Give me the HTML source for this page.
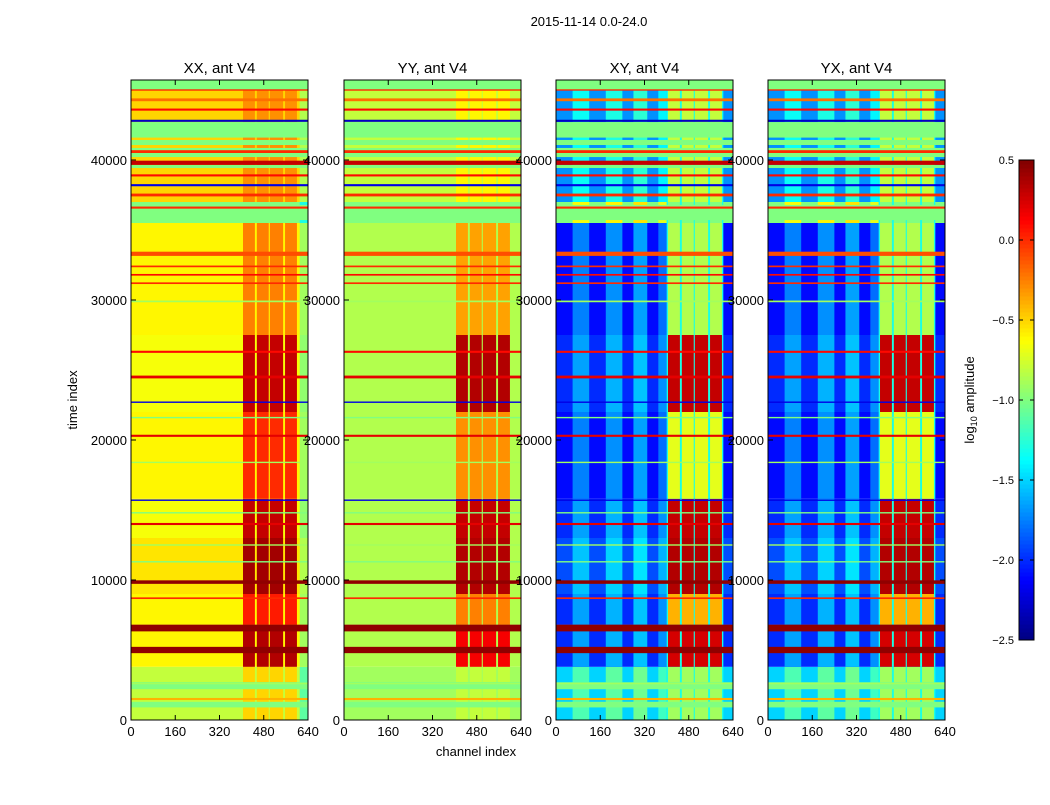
<!DOCTYPE html>
<html><head><meta charset="utf-8"><style>
body{margin:0;background:#fff;}
svg text{font-family:"Liberation Sans",sans-serif;}
</style></head><body>
<svg id="fig" width="1050" height="800" viewBox="0 0 1050 800" xmlns="http://www.w3.org/2000/svg">
<rect width="1050" height="800" fill="#fff"/>
<text x="589" y="26" font-size="13" text-anchor="middle">2015-11-14 0.0-24.0</text>
<text transform="translate(77,400) rotate(-90)" font-size="13" text-anchor="middle">time index</text>
<text x="476" y="756" font-size="13" text-anchor="middle">channel index</text>
<g id="panels"></g>
<g id="cbar"></g>
<text transform="translate(974,400) rotate(-90)" font-size="13" text-anchor="middle">log<tspan font-size="9" dy="3">10</tspan><tspan dy="-3"> amplitude</tspan></text>
</svg>
<script>
// ---- data ----
const panelTitles = ["XX, ant V4","YY, ant V4","XY, ant V4","YX, ant V4"];
const xTicks = [0,160,320,480,640];
const yTicks = [0,10000,20000,30000,40000];
const cbTicks = [0.5,0.0,-0.5,-1.0,-1.5,-2.0,-2.5];
// time bands
const bandT0 = [0,3800,6800,9000,13000,15800,22000,27500,35500,37000];
const bandT1 = [3800,6800,9000,13000,15800,22000,27500,35500,37000,45714];
// background value per band per panel
const bgXX = [-0.8,-0.6,-0.6,-0.55,-0.65,-0.6,-0.65,-0.6,-1.0,-0.5];
const bgYY = [-0.9,-0.85,-0.85,-0.85,-0.85,-0.85,-0.85,-0.85,-1.0,-0.8];
const bgXY = [-1.5,-2.0,-2.0,-1.9,-2.0,-2.1,-2.0,-2.1,-1.0,-1.7];
// channel-block value per band per panel
const blkXX = [-0.5,0.35,0.05,0.4,0.3,0.0,0.3,-0.25,-1.0,-0.3];
const blkYY = [-0.8,0.15,-0.25,0.35,0.3,-0.3,0.35,-0.35,-1.0,-0.6];
const blkXY = [-0.9,0.25,-0.4,0.35,0.3,-0.7,0.3,-0.85,-1.0,-0.8];
// block channel ranges
const blkC0 = [405,455,502,557];
const blkC1 = [448,498,550,600];
// lighter channel columns in cross-pol background
const colC0 = [60,180,280,370];
const colC1 = [120,240,330,400];
const colDelta = [0.35,0.4,0.45,0.3];
// flagged (constant green) time ranges
const flagT0 = [45000,41640,41070,40210,39430,35710,2200,900];
const flagT1 = [45714,42710,41430,40860,39640,36790,2700,1300];
// horizontal stripes: time, thickness (time units), value
const stripeT = [1500,2600,5000,6570,8700,9850,11300,12500,14000,14800,15700,18400,20300,21600,22700,24500,26300,29900,31200,31800,32400,33300,36600,37500,38200,38900,39800,40600,41700,42800,43600,44300,45000];
const stripeW = [150,100,450,480,120,250,100,100,150,100,100,100,150,100,100,200,150,120,120,120,120,300,150,200,150,150,300,200,200,150,150,200,100];
const stripeV = [-0.4,-0.9,0.45,0.45,0.0,0.45,-1.0,-0.9,0.2,-1.0,-2.2,-0.9,0.2,-1.0,-2.2,0.2,0.1,-0.9,0.0,0.1,0.0,-0.1,0.0,0.0,-2.2,0.1,0.3,0.0,-1.0,-2.3,0.1,-0.2,0.0];
// ---- rendering ----
const NS="http://www.w3.org/2000/svg";
function jet(v){let t=(v+2.5)/3;t=Math.max(0,Math.min(1,t));
 const f=x=>Math.max(0,Math.min(1,x));
 const r=f(Math.min(4*t-1.5,-4*t+4.5)),g=f(Math.min(4*t-0.5,-4*t+3.5)),b=f(Math.min(4*t+0.5,-4*t+2.5));
 return `rgb(${Math.round(r*255)},${Math.round(g*255)},${Math.round(b*255)})`;}
function mk(tag,attrs,parent){const e=document.createElementNS(NS,tag);for(const k in attrs)e.setAttribute(k,attrs[k]);parent.appendChild(e);return e;}
const panelX=[131,344,556,768], PW=177, PT=80, PB=720, TMAX=45714, CMAX=640;
const bgs=[bgXX,bgYY,bgXY,bgXY], blks=[blkXX,blkYY,blkXY,blkXY];
const root=document.getElementById('panels');
panelX.forEach((px,pi)=>{
 const sx=c=>px+c/CMAX*PW, sy=t=>PB-t/TMAX*(PB-PT);
 const g=mk('g',{},root);
 
 
 const bg=bgs[pi], bk=blks[pi];
 for(let b=0;b<bandT0.length;b++){
  const y1=sy(bandT1[b]), y0=sy(bandT0[b]);
  const r=mk('rect',{x:px,y:y1,width:PW,height:y0-y1,fill:jet(bg[b])},g);
  
  
  if(pi>=2){
   for(let c=0;c<colC0.length;c++){
    const cr=mk('rect',{x:sx(colC0[c]),y:y1,width:sx(colC1[c])-sx(colC0[c]),height:y0-y1,fill:jet(bg[b]+colDelta[c])},g);
    
    
   }
   const gap=mk('rect',{x:sx(400),y:y1,width:sx(605)-sx(400),height:y0-y1,fill:jet(-1.3)},g);
   
   
  } else if(pi===0){
   const er=mk('rect',{x:sx(610),y:y1,width:sx(640)-sx(610),height:y0-y1,fill:jet(Math.min(bg[b]-0.3,-0.85))},g);
   
   
  }
  for(let c=0;c<blkC0.length;c++){
   const br=mk('rect',{x:sx(blkC0[c]),y:y1,width:sx(blkC1[c])-sx(blkC0[c]),height:y0-y1,fill:jet(bk[b])},g);
   
   
  }
 }
 for(let f=0;f<flagT0.length;f++){
  const y1=sy(flagT1[f]), y0=sy(flagT0[f]);
  const fr=mk('rect',{x:px,y:y1,width:PW,height:y0-y1,fill:jet(-1.0)},g);
  
  
 }
 for(let s=0;s<stripeT.length;s++){
  const h=Math.max(1,stripeW[s]/TMAX*(PB-PT));
  const sr=mk('rect',{x:px,y:sy(stripeT[s])-h/2,width:PW,height:h,fill:jet(stripeV[s])},g);
  
  
 }
 const fr=mk('rect',{x:px,y:PT,width:PW,height:PB-PT,fill:'none',stroke:'#000','stroke-width':1},g);
 
 
 const tt=mk('text',{x:px+PW/2,y:73,'font-size':15,'text-anchor':'middle'},g);
 tt.textContent=panelTitles[pi];
 
 
 xTicks.forEach(v=>{const x=sx(v);
  mk('line',{x1:x,x2:x,y1:PB,y2:PB-5,stroke:'#000'},g);
  mk('line',{x1:x,x2:x,y1:PT,y2:PT+5,stroke:'#000'},g);
  const t=mk('text',{x:x,y:PB+16,'font-size':13,'text-anchor':'middle'},g);t.textContent=v;
  
  });
 yTicks.forEach(v=>{const y=sy(v);
  mk('line',{x1:px,x2:px+5,y1:y,y2:y,stroke:'#000'},g);
  mk('line',{x1:px+PW,x2:px+PW-5,y1:y,y2:y,stroke:'#000'},g);
  const t=mk('text',{x:px-4,y:y+5,'font-size':13,'text-anchor':'end'},g);t.textContent=v;
  
  });
});
// colorbar
const cb=document.getElementById('cbar'), CX=1019, CW=15, CT=160, CB=640;
for(let i=0;i<120;i++){const v=-2.5+3*(i+0.5)/120;const y=CB-(i+1)*(CB-CT)/120;
 mk('rect',{x:CX,y:y,width:CW,height:(CB-CT)/120+0.5,fill:jet(v)},cb);}
mk('rect',{x:CX,y:CT,width:CW,height:CB-CT,fill:'none',stroke:'#000'},cb);
cbTicks.forEach(v=>{const y=CB-(v+2.5)/3*(CB-CT);
 mk('line',{x1:CX+CW-4,x2:CX+CW,y1:y,y2:y,stroke:'#000'},cb);
 mk('line',{x1:CX,x2:CX+4,y1:y,y2:y,stroke:'#000'},cb);
 const t=mk('text',{x:CX-5,y:y+4,'font-size':11,'text-anchor':'end'},cb);t.textContent=v.toFixed(1).replace('-','\u2212');
 
 });
</script>
</body></html>
